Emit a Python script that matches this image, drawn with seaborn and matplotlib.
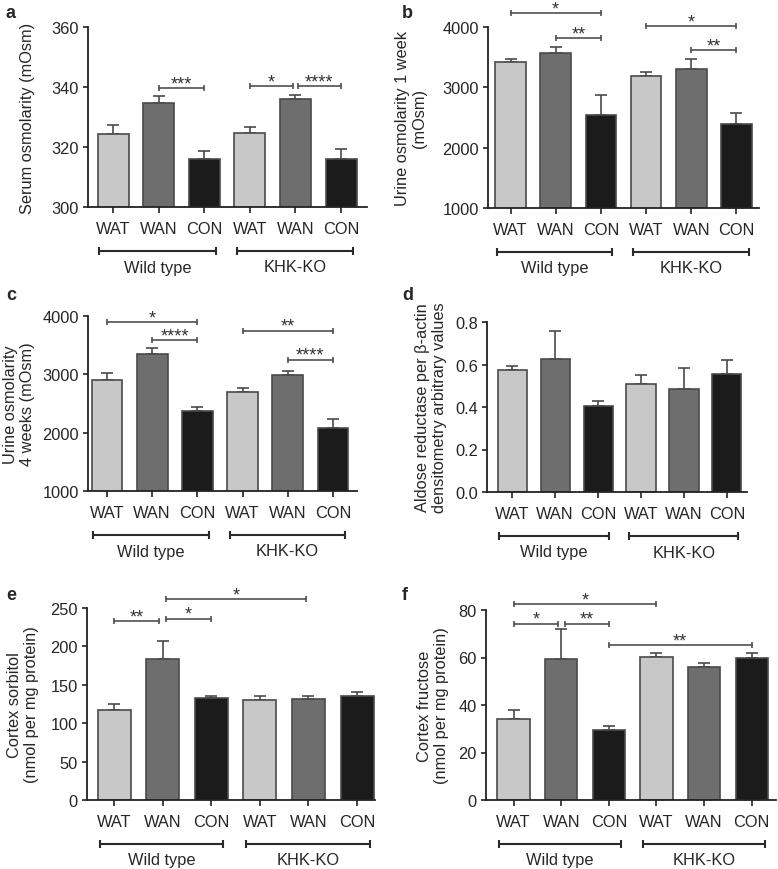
import numpy as np
import pandas as pd
import matplotlib
matplotlib.use("Agg")
import matplotlib.pyplot as plt
import seaborn as sns
from matplotlib.transforms import blended_transform_factory

sns.set_style("ticks")
plt.rcParams['font.family'] = ['Liberation Sans', 'DejaVu Sans']

# ---- data ----
conditions = ["WAT", "WAN", "CON", "WAT", "WAN", "CON"]
genotypes = ["Wild type", "KHK-KO"]

serum_mean = [324.4, 334.6, 316.1, 324.7, 336.1, 316.1]
serum_err = [3.0, 2.4, 2.5, 2.0, 1.1, 3.1]

urine1_mean = [3420, 3570, 2540, 3185, 3307, 2393]
urine1_err = [55, 105, 325, 67, 170, 181]

urine4_mean = [2896, 3346, 2378, 2697, 2993, 2076]
urine4_err = [119, 108, 68, 68, 68, 165]

aldose_mean = [0.573, 0.624, 0.403, 0.507, 0.486, 0.554]
aldose_err = [0.022, 0.135, 0.027, 0.042, 0.098, 0.067]

sorbitol_mean = [117.5, 183.7, 132.8, 129.6, 131.0, 134.9]
sorbitol_err = [7.8, 23.3, 3.0, 6.2, 4.8, 6.1]

fructose_mean = [34.2, 59.2, 29.6, 60.3, 56.2, 59.6]
fructose_err = [3.7, 12.7, 1.7, 1.4, 1.6, 2.1]

# significance brackets: (from bar, to bar, height, stars)
sig_a = [(1, 2, 339.7, "***"), (3, 3.95, 340.3, "*"), (4.05, 5, 340.3, "****")]
sig_b = [(0, 2, 4226, "*"), (1, 2, 3813, "**"), (3, 5, 4016, "*"), (4, 5, 3620, "**")]
sig_c = [(0, 2, 3898, "*"), (1, 2, 3585, "****"), (3, 5, 3750, "**"), (4, 5, 3254, "****")]
sig_d = []
sig_e = [(0, 0.93, 232.8, "**"), (1.07, 2, 236.3, "*"), (1.07, 3.95, 262, "*")]
sig_f = [(0, 3, 82.4, "*"), (0, 0.93, 74.3, "*"), (1.07, 2, 74.3, "**"), (2, 5, 65.2, "**")]

palette = {"WAT": "#c8c8c8", "WAN": "#6e6e6e", "CON": "#1b1b1b"}

W, H = 778, 870
fig = plt.figure(figsize=(W / 100, H / 100), dpi=100)

# panel settings: letter, pixel box (l, r, t, b), data, ylim, ticks, ylabel, ylabel x px, xlim
panels = [
    ("a", (88, 367, 28, 208), serum_mean, serum_err, (300, 360), [300, 320, 340, 360],
     "Serum osmolarity (mOsm)", 28, (-0.55, 5.57), sig_a),
    ("b", (488, 759, 28, 209), urine1_mean, urine1_err, (1000, 4000), [1000, 2000, 3000, 4000],
     "Urine osmolarity 1 week\n(mOsm)", 411, (-0.5, 5.5), sig_b),
    ("c", (88, 357, 317, 492), urine4_mean, urine4_err, (1000, 4000), [1000, 2000, 3000, 4000],
     "Urine osmolarity\n4 weeks (mOsm)", 19, (-0.42, 5.53), sig_c),
    ("d", (487, 747, 323, 493), aldose_mean, aldose_err, (0, 0.8), [0.0, 0.2, 0.4, 0.6, 0.8],
     "Aldose reductase per \u03b2-actin\ndensitometry arbitrary values", 431, (-0.59, 5.47), sig_d),
    ("e", (87, 375, 609, 801), sorbitol_mean, sorbitol_err, (0, 250), [0, 50, 100, 150, 200, 250],
     "Cortex sorbitol\n(nmol per mg protein)", 23, (-0.56, 5.37), sig_e),
    ("f", (486, 776, 611, 801), fructose_mean, fructose_err, (0, 80), [0, 20, 40, 60, 80],
     "Cortex fructose\n(nmol per mg protein)", 433, (-0.58, 5.51), sig_f),
]

edge = "#4a4a4a"
bracket_col = "#505050"

for letter, (l, r, t, b), means, errs, ylim, yticks, ylabel, ylab_px, xlim, sigs in panels:
    ax = fig.add_axes([l / W, 1 - b / H, (r - l) / W, (b - t) / H])
    df = pd.DataFrame({"pos": range(6), "mean": means, "cond": conditions})
    sns.barplot(data=df, x="pos", y="mean", hue="cond", palette=palette, dodge=False,
                legend=False, width=0.68, edgecolor=edge, linewidth=1.2, ax=ax)
    # upper error bars only
    ax.errorbar(df["pos"], df["mean"], yerr=[np.zeros(6), errs], fmt="none",
                ecolor=edge, elinewidth=1.2, capsize=4, capthick=1.2, zorder=0.5)

    ax.set_xlim(*xlim)
    ax.set_ylim(*ylim)
    ax.set_yticks(yticks)
    if letter == "d":
        ax.set_yticklabels([f"{v:.1f}" for v in yticks])
    ax.set_xticks(range(6))
    ax.set_xticklabels(conditions)
    ax.set_xlabel("")
    sns.despine(ax=ax)
    for sp in ["left", "bottom"]:
        ax.spines[sp].set_linewidth(1.3)
        ax.spines[sp].set_color("#222222")
    ax.tick_params(axis="both", labelsize=11.8, width=1.2, color="#222222", direction="out")
    ax.tick_params(axis="x", length=4, pad=6)
    ax.tick_params(axis="y", length=3.5, pad=3)

    ax.set_ylabel(ylabel, fontsize=11.8, va="center", linespacing=1.1)
    ax.yaxis.set_label_coords((ylab_px - l) / (r - l), 0.5)

    # significance brackets
    for x0, x1, yv, stars in sigs:
        ax.plot([x0, x1], [yv, yv], color=bracket_col, lw=1.2, marker="|", ms=5,
                mew=1.2, clip_on=False, zorder=3)
        ax.annotate(stars, xy=((x0 + x1) / 2, yv), xytext=(0, 3.0), textcoords="offset points",
                    ha="center", va="center", fontsize=13, color="#333333",
                    annotation_clip=False)

    # genotype group brackets below axis
    h = b - t
    trans = blended_transform_factory(ax.transData, ax.transAxes)
    for (g0, g1), name in zip([(-0.3, 2.25), (2.72, 5.27)], genotypes):
        ax.plot([g0, g1], [-44 / h, -44 / h], transform=trans, color="#2a2a2a", lw=1.5,
                marker="|", ms=6, mew=1.5, clip_on=False)
        ax.text((g0 + g1) / 2, -60 / h, name, transform=trans, ha="center", va="center",
                fontsize=11.8)

# panel letters
letters_pos = {"a": (6, 14), "b": (402, 14), "c": (6, 296), "d": (402, 296),
               "e": (6, 596), "f": (402, 596)}
for k, (px, py) in letters_pos.items():
    fig.text(px / W, 1 - py / H, k, fontsize=13, fontweight="bold", ha="left", va="center")

fig.savefig("out.png", dpi=100)
